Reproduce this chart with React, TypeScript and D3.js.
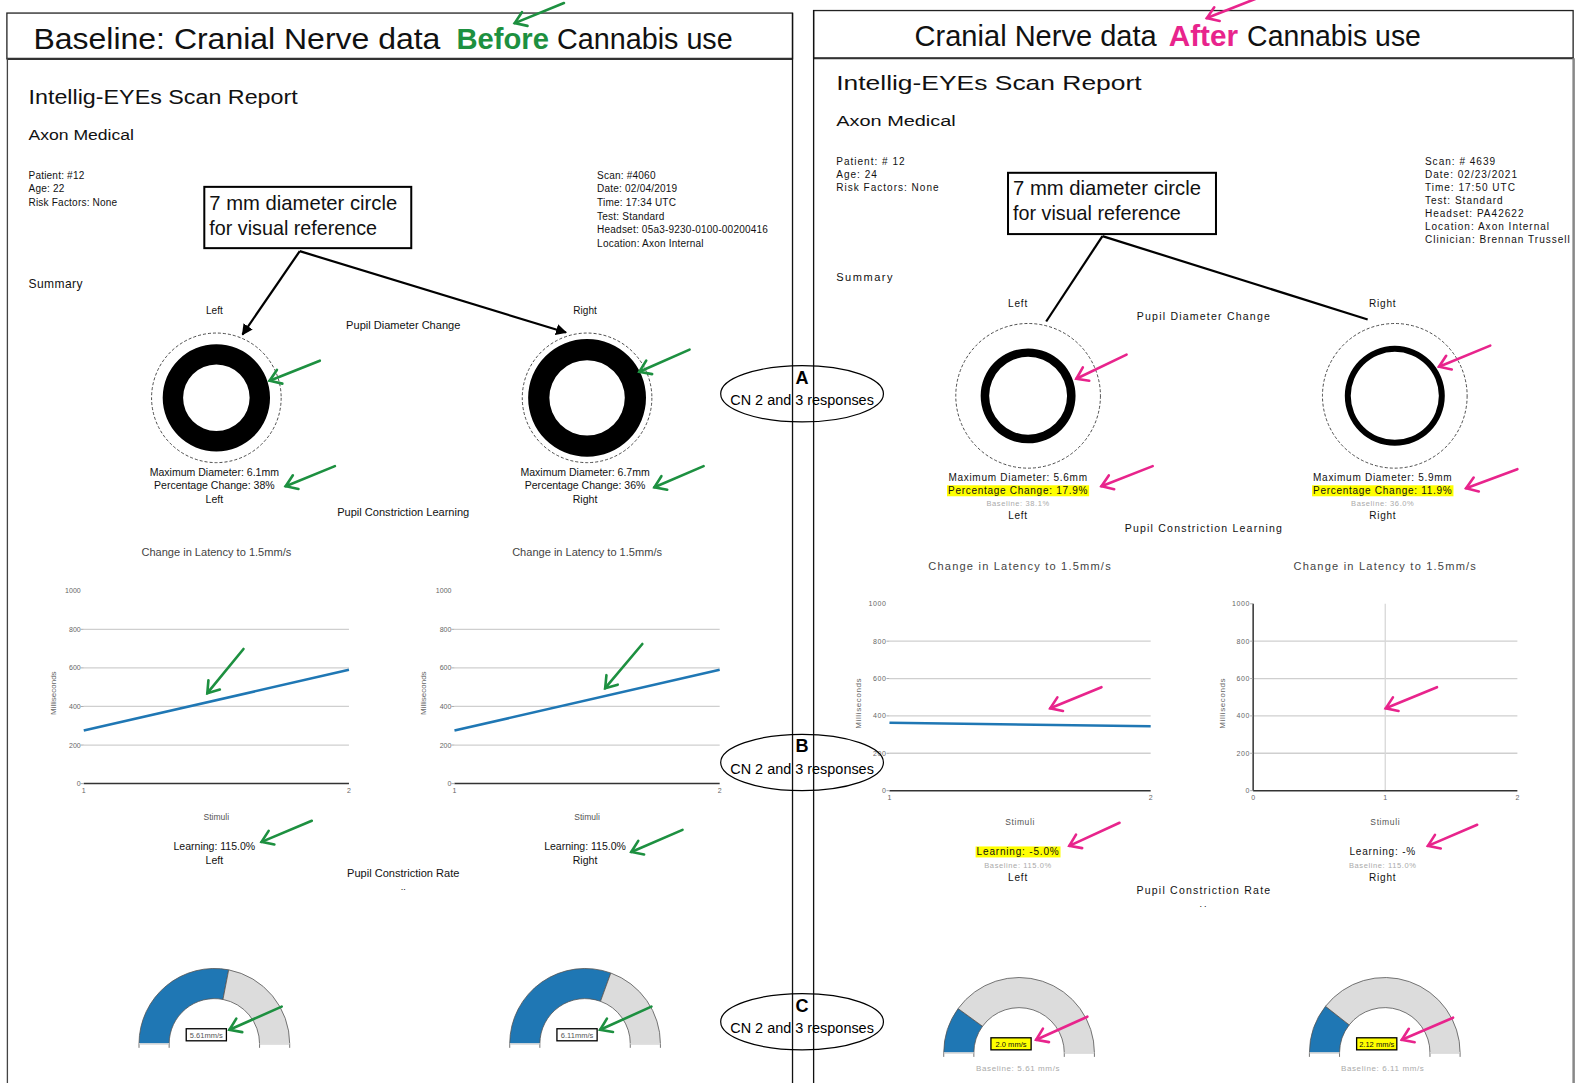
import React, { useLayoutEffect, useRef, useState } from "react";
import * as d3 from "d3";

const eyes = ["Left", "Right"];
const maxDiameterBefore = [6.1, 6.7];
const pctChangeBefore = [38, 36];
const maxDiameterAfter = [5.6, 5.9];
const pctChangeAfter = [17.9, 11.9];
const baselinePct = ["38.1%", "36.0%"];
const stimuli = [1, 2];
const latencyBefore = [[275, 590], [275, 590]];
const latencyAfter = [[363, 345], []];
const learningBefore = ["115.0%", "115.0%"];
const learningAfter = ["-5.0%", "-%"];
const rateBefore = [5.61, 6.11];
const rateAfter = [2.0, 2.12];
const rateMax = 10;
const yTicks = [0, 200, 400, 600, 800, 1000];
const patientBefore = ["Patient: #12", "Age: 22", "Risk Factors: None"];
const scanBefore = ["Scan: #4060", "Date: 02/04/2019", "Time: 17:34 UTC", "Test: Standard", "Headset: 05a3-9230-0100-00200416", "Location: Axon Internal"];
const patientAfter = ["Patient: # 12", "Age: 24", "Risk Factors: None"];
const scanAfter = ["Scan: # 4639", "Date: 02/23/2021", "Time: 17:50 UTC", "Test: Standard", "Headset: PA42622", "Location: Axon Internal", "Clinician: Brennan Trussell"];

const F = "'Liberation Sans Narrow','Liberation Sans',Arial,sans-serif";
const F2 = "'Liberation Sans',Arial,sans-serif";
const GREEN = "#1d9040";
const PINK = "#e8248c";
const BLUE = "#1f77b4";

function Arrow({ x1, y1, x2, y2, color }) {
  const ang = Math.atan2(y1 - y2, x1 - x2);
  const L = 13;
  const a1 = ang + 0.6, a2 = ang - 0.6;
  return (
    <g stroke={color} strokeWidth={2.6} fill="none" strokeLinecap="round">
      <line x1={x1} y1={y1} x2={x2} y2={y2} />
      <path d={`M${x2 + L * Math.cos(a1)},${y2 + L * Math.sin(a1)} L${x2},${y2} L${x2 + L * Math.cos(a2)},${y2 + L * Math.sin(a2)}`} />
    </g>
  );
}

function HiText({ x, y, size, children, spacing = 0, hi = false, fill = "#111", family = F }) {
  const ref = useRef<SVGTextElement>(null);
  const [box, setBox] = useState<any>(null);
  useLayoutEffect(() => {
    if (ref.current && hi) {
      const b = ref.current.getBBox();
      setBox({ x: b.x - 1, y: b.y + 0.5, w: b.width + 2, h: b.height });
    }
  }, [children, hi]);
  return (
    <g>
      {hi && box && <rect x={box.x} y={box.y} width={box.w} height={box.h} fill="#ffff00" />}
      <text ref={ref} x={x} y={y} fontSize={size} textAnchor="middle" letterSpacing={spacing} fill={fill} fontFamily={family}>{children}</text>
    </g>
  );
}

function Pupil({ cx, cy, refR, mm, pct, k }) {
  const mmScale = d3.scaleLinear().domain([0, 7]).range([0, refR * k]);
  const outer = mmScale(mm);
  const inner = outer * (1 - pct / 100);
  const ring = d3.arc()({ innerRadius: inner, outerRadius: outer, startAngle: 0, endAngle: 2 * Math.PI } as any);
  return (
    <g>
      <circle cx={cx} cy={cy} r={refR} fill="none" stroke="#222" strokeWidth={0.8} strokeDasharray="3,2" />
      <path d={ring as string} transform={`translate(${cx},${cy})`} fill="#000" />
    </g>
  );
}

function Latency({ x0, x1, y0, y1, domain, ticks, values, axis = false, vgrid = false, spacing = 0, titleDy = 35, stimDy = 36 }) {
  const x = d3.scaleLinear().domain(domain).range([x0, x1]);
  const y = d3.scaleLinear().domain([0, 1000]).range([y0, y1]);
  const line = d3.line<number>().x((d, i) => x(stimuli[i])).y(d => y(d));
  const cx = (x0 + x1) / 2;
  return (
    <g fontFamily={F2}>
      <text x={cx} y={y1 - titleDy} textAnchor="middle" fontSize={11} fill="#444" letterSpacing={spacing}>Change in Latency to 1.5mm/s</text>
      {yTicks.filter(t => t > 0 && t < 1000).map(t => (
        <line key={t} x1={x0} x2={x1} y1={y(t)} y2={y(t)} stroke="#cfcfcf" strokeWidth={1.3} />
      ))}
      {vgrid && ticks.slice(1, -1).map(t => (
        <line key={"v" + t} x1={x(t)} x2={x(t)} y1={y0} y2={y1} stroke="#d8d8d8" strokeWidth={1.3} />
      ))}
      <line x1={x0} x2={x1} y1={y(0)} y2={y(0)} stroke="#333" strokeWidth={1.5} />
      {axis && <line x1={x0} x2={x0} y1={y0} y2={y1} stroke="#333" strokeWidth={1.5} />}
      {yTicks.map(t => (
        <g key={"t" + t}>
          {(axis || t < 1000) && <line x1={x0 - 3} x2={x0} y1={y(t)} y2={y(t)} stroke="#999" strokeWidth={0.8} />}
          <text x={x0 - 3} y={y(t) + 2.5} textAnchor="end" fontSize={7} fill="#666" letterSpacing={spacing / 2}>{t}</text>
        </g>
      ))}
      {ticks.map(t => (
        <text key={"x" + t} x={x(t)} y={y0 + 9} textAnchor="middle" fontSize={7} fill="#666">{t}</text>
      ))}
      {values.length > 0 && <path d={line(values) as string} fill="none" stroke={BLUE} strokeWidth={2.5} />}
      <text transform={`translate(${x0 - 28},${(y0 + y1) / 2 + 6}) rotate(-90)`} textAnchor="middle" fontSize={8} fill="#666" letterSpacing={spacing / 2}>Milliseconds</text>
      <text x={cx} y={y0 + stimDy} textAnchor="middle" fontSize={8.5} fill="#555" letterSpacing={spacing / 2}>Stimuli</text>
    </g>
  );
}

function Gauge({ cx, cy, value, label, hi = false }) {
  const ang = d3.scaleLinear().domain([0, rateMax]).range([-Math.PI / 2, Math.PI / 2]);
  const arc = d3.arc().innerRadius(45).outerRadius(75);
  const filled = arc({ startAngle: ang(0), endAngle: ang(value) } as any) as string;
  const rest = arc({ startAngle: ang(value), endAngle: ang(rateMax) } as any) as string;
  const bx = -8, by = -9;
  return (
    <g transform={`translate(${cx},${cy})`}>
      <path d={filled} fill={BLUE} stroke="#555" strokeWidth={0.8} />
      <path d={rest} fill="#dcdcdc" stroke="#555" strokeWidth={0.8} />
      {[-75, -45, 45, 75].map(r => (
        <line key={r} x1={r} x2={r} y1={0} y2={4} stroke="#555" strokeWidth={0.8} />
      ))}
      <line x1={-75} x2={-45} y1={0} y2={0} stroke="#fff" strokeWidth={1} />
      <line x1={45} x2={75} y1={0} y2={0} stroke="#fff" strokeWidth={1} />
      <rect x={bx - 20} y={by - 6} width={40} height={12} fill={hi ? "#ffff00" : "#fff"} stroke="#000" strokeWidth={1.3} />
      <text x={bx} y={by + 3} textAnchor="middle" fontSize={7.5} fill={hi ? "#111" : "#555"} fontFamily={F}>{label}</text>
    </g>
  );
}

export default function App() {
  const leftC = [213, 582];
  const rightC = [1013, 1376];
  return (
    <svg width={1576} height={1083} viewBox="0 0 1568 1078" style={{ position: "absolute", left: 0, top: 0, background: "#fff" }} fontFamily={F}>
      <rect x={0} y={0} width={1568} height={1078} fill="#fff" />
      {/* frames */}
      <rect x={6.5} y={13} width={782} height={45.5} fill="none" stroke="#222" strokeWidth={1.3} />
      <line x1={6.5} x2={788.5} y1={58.5} y2={58.5} stroke="#333" strokeWidth={2.2} />
      <line x1={7} x2={7} y1={58} y2={1078} stroke="#444" strokeWidth={1.3} />
      <line x1={788.5} x2={788.5} y1={13} y2={1078} stroke="#111" strokeWidth={1.3} />
      <rect x={809.5} y={10.5} width={756} height={47.5} fill="none" stroke="#222" strokeWidth={1.3} />
      <line x1={809.5} x2={1566} y1={58} y2={58} stroke="#333" strokeWidth={2} />
      <line x1={809.5} x2={809.5} y1={10} y2={1078} stroke="#111" strokeWidth={1.3} />
      <line x1={1566} x2={1566} y1={58} y2={1078} stroke="#888" strokeWidth={2.5} />

      {/* headers */}
      <g fontSize={30} fill="#111">
        <text x={33} y={49} textLength={405} lengthAdjust="spacingAndGlyphs">Baseline: Cranial Nerve data</text>
        <text x={454} y={49} textLength={92} lengthAdjust="spacingAndGlyphs" fill={GREEN} fontWeight="bold">Before</text>
        <text x={554} y={49} textLength={175} lengthAdjust="spacingAndGlyphs">Cannabis use</text>
        <text x={910} y={46} textLength={241} lengthAdjust="spacingAndGlyphs">Cranial Nerve data</text>
        <text x={1163} y={46} textLength={69} lengthAdjust="spacingAndGlyphs" fill={PINK} fontWeight="bold">After</text>
        <text x={1241} y={46} textLength={173} lengthAdjust="spacingAndGlyphs">Cannabis use</text>
      </g>
      <Arrow x1={561} y1={3} x2={512} y2={23} color={GREEN} />
      <Arrow x1={1249} y1={-1} x2={1201} y2={18} color={PINK} />

      {/* ---------- BEFORE report ---------- */}
      <text x={28} y={104} fontSize={21} textLength={268} lengthAdjust="spacingAndGlyphs" fill="#111">Intellig-EYEs Scan Report</text>
      <text x={28} y={139} fontSize={15} textLength={105} lengthAdjust="spacingAndGlyphs" fill="#111">Axon Medical</text>
      {patientBefore.map((t, i) => (
        <text key={t} x={28} y={178 + i * 13.5} fontSize={10} fill="#111" letterSpacing={0.2}>{t}</text>
      ))}
      {scanBefore.map((t, i) => (
        <text key={t} x={594} y={178 + i * 13.6} fontSize={10} fill="#111" letterSpacing={0.2}>{t}</text>
      ))}
      <rect x={203} y={186} width={206} height={61} fill="#fff" stroke="#000" strokeWidth={2} />
      <text x={208} y={209} fontSize={20} fill="#111" textLength={187} lengthAdjust="spacingAndGlyphs">7 mm diameter circle</text>
      <text x={208} y={234} fontSize={20} fill="#111" textLength={167} lengthAdjust="spacingAndGlyphs">for visual reference</text>
      <defs>
        <marker id="tri" viewBox="0 0 10 10" refX={9} refY={5} markerWidth={5} markerHeight={5} orient="auto">
          <path d="M0,0 L10,5 L0,10 z" fill="#000" />
        </marker>
      </defs>
      <line x1={298} y1={250} x2={241} y2={333} stroke="#000" strokeWidth={2.2} markerEnd="url(#tri)" />
      <line x1={298} y1={250} x2={563} y2={331} stroke="#000" strokeWidth={2.2} markerEnd="url(#tri)" />
      <text x={28} y={287} fontSize={12} fill="#111" letterSpacing={0.4}>Summary</text>

      {eyes.map((e, i) => (
        <text key={"bl" + e} x={leftC[i]} y={313} fontSize={10} textAnchor="middle" fill="#111">{e}</text>
      ))}
      <text x={401} y={327} fontSize={11} textAnchor="middle" fill="#111">Pupil Diameter Change</text>
      {eyes.map((e, i) => (
        <Pupil key={"bp" + e} cx={[215, 584][i]} cy={396} refR={64.5} mm={maxDiameterBefore[i]} pct={pctChangeBefore[i]} k={0.95} />
      ))}
      {eyes.map((e, i) => (
        <g key={"bt" + e}>
          <HiText x={leftC[i]} y={474} size={10.5}>{`Maximum Diameter: ${maxDiameterBefore[i]}mm`}</HiText>
          <HiText x={leftC[i]} y={487} size={10.5}>{`Percentage Change: ${pctChangeBefore[i]}%`}</HiText>
          <HiText x={leftC[i]} y={501} size={10.5}>{e}</HiText>
        </g>
      ))}
      <text x={401} y={514} fontSize={11} textAnchor="middle" fill="#111">Pupil Constriction Learning</text>

      <Latency x0={83} x1={347} y0={780} y1={588} domain={[1, 2]} ticks={[1, 2]} values={latencyBefore[0]} />
      <Latency x0={452} x1={716} y0={780} y1={588} domain={[1, 2]} ticks={[1, 2]} values={latencyBefore[1]} />
      {eyes.map((e, i) => (
        <g key={"bln" + e}>
          <HiText x={leftC[i]} y={846} size={10.5}>{`Learning: ${learningBefore[i]}`}</HiText>
          <HiText x={leftC[i]} y={860} size={10.5}>{e}</HiText>
        </g>
      ))}
      <text x={401} y={873} fontSize={11} textAnchor="middle" fill="#111">Pupil Constriction Rate</text>
      <text x={401} y={886} fontSize={9} textAnchor="middle" fill="#111">..</text>
      {eyes.map((e, i) => (
        <Gauge key={"bg" + e} cx={leftC[i]} cy={1039} value={rateBefore[i]} label={`${rateBefore[i]}mm/s`} />
      ))}

      {/* green annotations */}
      <Arrow x1={318} y1={359} x2={268} y2={379} color={GREEN} />
      <Arrow x1={686} y1={348} x2={636} y2={370} color={GREEN} />
      <Arrow x1={333} y1={464} x2={284} y2={484} color={GREEN} />
      <Arrow x1={700} y1={464} x2={651} y2={485} color={GREEN} />
      <Arrow x1={242} y1={646} x2={206} y2={690} color={GREEN} />
      <Arrow x1={639} y1={641} x2={602} y2={685} color={GREEN} />
      <Arrow x1={310} y1={817} x2={260} y2={838} color={GREEN} />
      <Arrow x1={679} y1={826} x2={628} y2={848} color={GREEN} />
      <Arrow x1={280} y1={1002} x2={228} y2={1025} color={GREEN} />
      <Arrow x1={648} y1={1002} x2={597} y2={1025} color={GREEN} />

      {/* ---------- AFTER report ---------- */}
      <text x={832} y={90} fontSize={20} textLength={304} lengthAdjust="spacingAndGlyphs" fill="#111">Intellig-EYEs Scan Report</text>
      <text x={832} y={125} fontSize={15} textLength={119} lengthAdjust="spacingAndGlyphs" fill="#111">Axon Medical</text>
      {patientAfter.map((t, i) => (
        <text key={t} x={832} y={164 + i * 13} fontSize={10} fill="#111" letterSpacing={1}>{t}</text>
      ))}
      {scanAfter.map((t, i) => (
        <text key={t} x={1418} y={164 + i * 13} fontSize={10} fill="#111" letterSpacing={1}>{t}</text>
      ))}
      <rect x={1003} y={172} width={207} height={61} fill="#fff" stroke="#000" strokeWidth={2} />
      <text x={1008} y={194} fontSize={20} fill="#111" textLength={187} lengthAdjust="spacingAndGlyphs">7 mm diameter circle</text>
      <text x={1008} y={219} fontSize={20} fill="#111" textLength={167} lengthAdjust="spacingAndGlyphs">for visual reference</text>
      <line x1={1097} y1={235} x2={1041} y2={320} stroke="#000" strokeWidth={2.2} />
      <line x1={1097} y1={235} x2={1361} y2={318} stroke="#000" strokeWidth={2.2} />
      <text x={832} y={280} fontSize={11} fill="#111" letterSpacing={1.5}>Summary</text>

      {eyes.map((e, i) => (
        <text key={"al" + e} x={rightC[i]} y={306} fontSize={10} textAnchor="middle" fill="#111" letterSpacing={0.8}>{e}</text>
      ))}
      <text x={1198} y={319} fontSize={10.5} textAnchor="middle" fill="#111" letterSpacing={1.2}>Pupil Diameter Change</text>
      {eyes.map((e, i) => (
        <Pupil key={"ap" + e} cx={[1023, 1388][i]} cy={394} refR={72} mm={maxDiameterAfter[i]} pct={pctChangeAfter[i]} k={0.82} />
      ))}
      {eyes.map((e, i) => (
        <g key={"at" + e}>
          <HiText x={rightC[i]} y={479} size={10} spacing={0.7}>{`Maximum Diameter: ${maxDiameterAfter[i]}mm`}</HiText>
          <HiText x={rightC[i]} y={491.5} size={10} spacing={0.7} hi={true}>{`Percentage Change: ${pctChangeAfter[i]}%`}</HiText>
          <HiText x={rightC[i]} y={504} size={7.5} spacing={0.6} fill="#aaa">{`Baseline: ${baselinePct[i]}`}</HiText>
          <HiText x={rightC[i]} y={517} size={10} spacing={0.7}>{e}</HiText>
        </g>
      ))}
      <text x={1198} y={530} fontSize={10.5} textAnchor="middle" fill="#111" letterSpacing={1.2}>Pupil Constriction Learning</text>

      <Latency x0={885} x1={1145} y0={787} y1={601} domain={[1, 2]} ticks={[1, 2]} values={latencyAfter[0]} spacing={1.2} titleDy={34} stimDy={34} />
      <Latency x0={1247} x1={1510} y0={787} y1={601} domain={[0, 2]} ticks={[0, 1, 2]} values={latencyAfter[1]} axis={true} vgrid={true} spacing={1.2} titleDy={34} stimDy={34} />
      {eyes.map((e, i) => (
        <g key={"aln" + e}>
          <HiText x={rightC[i]} y={851} size={10} spacing={0.8} hi={i === 0}>{`Learning: ${learningAfter[i]}`}</HiText>
          <HiText x={rightC[i]} y={863.5} size={7.5} spacing={0.6} fill="#aaa">{`Baseline: ${learningBefore[i]}`}</HiText>
          <HiText x={rightC[i]} y={877} size={10} spacing={0.8}>{e}</HiText>
        </g>
      ))}
      <text x={1198} y={890} fontSize={10.5} textAnchor="middle" fill="#111" letterSpacing={1.2}>Pupil Constriction Rate</text>
      <text x={1198} y={903} fontSize={9} textAnchor="middle" fill="#111" letterSpacing={2}>..</text>
      {eyes.map((e, i) => (
        <g key={"ag" + e}>
          <Gauge cx={[1014, 1378][i]} cy={1048} value={rateAfter[i]} label={`${rateAfter[i].toFixed(i === 0 ? 1 : 2)} mm/s`} hi={true} />
          <HiText x={rightC[i]} y={1066} size={8} spacing={0.6} fill="#aaa">{`Baseline: ${rateBefore[i]} mm/s`}</HiText>
        </g>
      ))}

      {/* pink annotations */}
      <Arrow x1={1121} y1={353} x2={1071} y2={377} color={PINK} />
      <Arrow x1={1483} y1={344} x2={1432} y2={365} color={PINK} />
      <Arrow x1={1147} y1={464} x2={1096} y2={484} color={PINK} />
      <Arrow x1={1510} y1={467} x2={1459} y2={486} color={PINK} />
      <Arrow x1={1096} y1={684} x2={1045} y2={705} color={PINK} />
      <Arrow x1={1430} y1={684} x2={1379} y2={705} color={PINK} />
      <Arrow x1={1114} y1={819} x2={1064} y2={842} color={PINK} />
      <Arrow x1={1470} y1={821} x2={1421} y2={842} color={PINK} />
      <Arrow x1={1082} y1={1012} x2={1031} y2={1035} color={PINK} />
      <Arrow x1={1446} y1={1013} x2={1395} y2={1035} color={PINK} />

      {/* section callouts */}
      {[
        { cy: 392, letter: "A" },
        { cy: 759, letter: "B" },
        { cy: 1017, letter: "C" },
      ].map(c => (
        <g key={c.letter} fontFamily={F2}>
          <ellipse cx={798} cy={c.cy} rx={81} ry={28} fill="none" stroke="#000" strokeWidth={1.2} />
          <text x={798} y={c.cy - 10} textAnchor="middle" fontSize={18} fontWeight="bold" fill="#000">{c.letter}</text>
          <text x={798} y={c.cy + 11} textAnchor="middle" fontSize={15} fill="#000" textLength={143} lengthAdjust="spacingAndGlyphs">CN 2 and 3 responses</text>
        </g>
      ))}
    </svg>
  );
}
